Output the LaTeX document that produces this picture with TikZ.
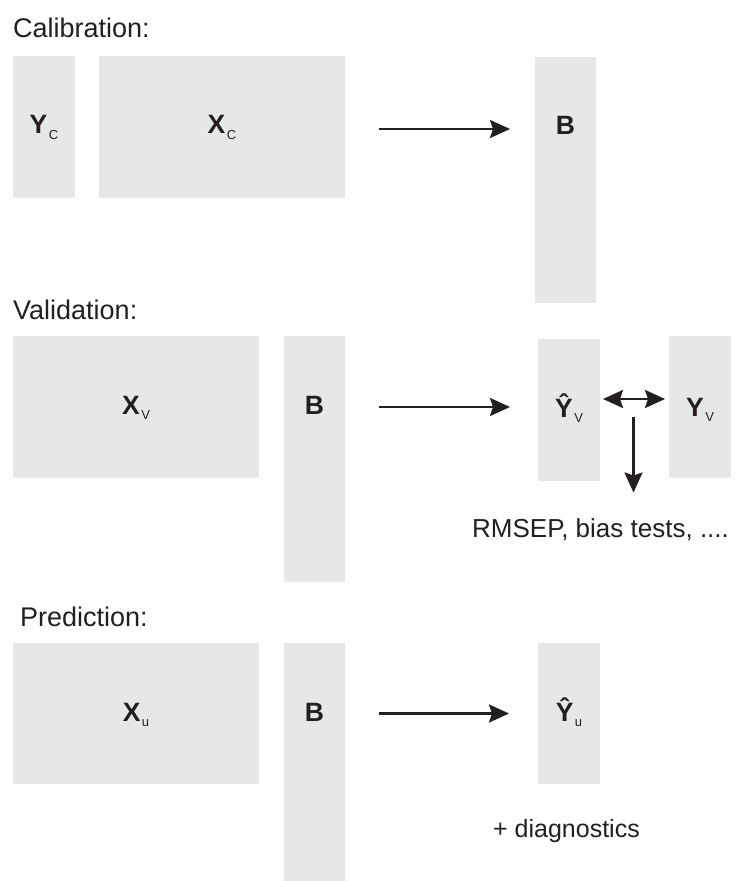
\documentclass[tikz,border=0pt]{standalone}
\usepackage{fontspec}
\setmainfont{Liberation Sans}
\usetikzlibrary{arrows.meta,calc}
\definecolor{ink}{HTML}{231F20}
\definecolor{cell}{HTML}{E6E7E8}
\newcommand\msub[1]{\kern1.5pt\raisebox{-5.5pt}{\fontsize{13}{13}\selectfont\mdseries #1}}
\begin{document}
\begin{tikzpicture}[x=1pt,y=-1pt,
  mat/.style={fill=cell, draw=none, inner sep=0, outer sep=0, anchor=north west},
  lab/.style={anchor=base, inner sep=0, font=\fontsize{26.5}{26.5}\selectfont\bfseries, text=ink},
  txt/.style={anchor=base west, inner sep=0, text=ink},
  tip/.style={Stealth[length=20pt,width=18pt,inset=3pt]},
  arr/.style={draw=ink, line width=2.4pt, -{Stealth[length=20pt,width=18pt,inset=3pt]}},
  darr/.style={draw=ink, line width=2.4pt, {Stealth[length=20pt,width=18pt,inset=3pt]}-{Stealth[length=20pt,width=18pt,inset=3pt]}}]
\useasboundingbox (0,0) rectangle (736,881);
% section titles
\node[txt, font=\fontsize{27}{27}\selectfont] (tcal) at (13,37) {Calibration:};
\node[txt, font=\fontsize{27}{27}\selectfont] (tval) at (13,319) {Validation:};
\node[txt, font=\fontsize{27}{27}\selectfont] (tpre) at (20,626) {Prediction:};
% calibration
\node[mat, minimum width=62pt, minimum height=142pt] (Yc) at (13,56) {};
\node[mat, minimum width=246pt, minimum height=142pt] (Xc) at (99,56) {};
\node[mat, minimum width=61pt, minimum height=246pt] (Bc) at (535,57) {};
\node[lab] (lYc) at ($(Yc.center)+(0,6.5)$) {Y\msub{C}};
\node[lab] (lXc) at ($(Xc.center)+(0,6.5)$) {X\msub{C}};
\node[lab] (lBc) at ($(Bc.center |- Xc.center)+(0,7)$) {B};
\draw[arr] ($(Xc.east)+(34,2)$) -- ($(Bc.west |- Xc.east)+(-25,2)$);
% validation
\node[mat, minimum width=246pt, minimum height=142pt] (Xv) at (13,336) {};
\node[mat, minimum width=61pt, minimum height=246pt] (Bv) at (284,336) {};
\node[mat, minimum width=62pt, minimum height=142pt] (Yhv) at (538,339) {};
\node[mat, minimum width=62pt, minimum height=142pt] (Yv) at (669,336) {};
\node[lab] (lXv) at ($(Xv.center)+(0,7)$) {X\msub{V}};
\node[lab] (lBv) at ($(Bv.center |- Xv.center)+(0,7)$) {B};
\node[lab] (lYhv) at ($(Yhv.center)+(0,7)$) {Ŷ\msub{V}};
\node[lab] (lYv) at ($(Yv.center)+(0,9)$) {Y\msub{V}};
\draw[arr] ($(Bv.east |- Xv.east)+(34,0)$) -- ($(Yhv.west |- Xv.east)+(-28,0)$);
\coordinate (split) at ($(Yhv.east)!0.5!(Yv.west)$);
\draw[darr] ($(Yhv.east)+(3,-11)$) -- ($(Yv.west)+(-4,-8)$);
\node[txt, font=\fontsize{26}{26}\selectfont] (rmsep) at (472,537) {RMSEP, bias tests, ....};
\draw[arr] ($(split)+(-1,8)$) -- ($(split)+(-1,84)$);
% prediction
\node[mat, minimum width=246pt, minimum height=141pt] (Xu) at (13,643) {};
\node[mat, minimum width=61pt, minimum height=238pt] (Bu) at (284,643) {};
\node[mat, minimum width=62pt, minimum height=141pt] (Yhu) at (538,643) {};
\node[lab] (lXu) at ($(Xu.center)+(0,7.5)$) {X\msub{u}};
\node[lab] (lBu) at ($(Bu.center |- Xu.center)+(0,7.5)$) {B};
\node[lab] (lYhu) at ($(Yhu.center)+(0,7.5)$) {Ŷ\msub{u}};
\draw[arr] ($(Bu.east |- Xu.east)+(34,0)$) -- ($(Yhu.west |- Xu.east)+(-29,0)$);
\node[txt, font=\fontsize{25}{25}\selectfont] (diag) at (493,837) {+ diagnostics};
\end{tikzpicture}
\end{document}
